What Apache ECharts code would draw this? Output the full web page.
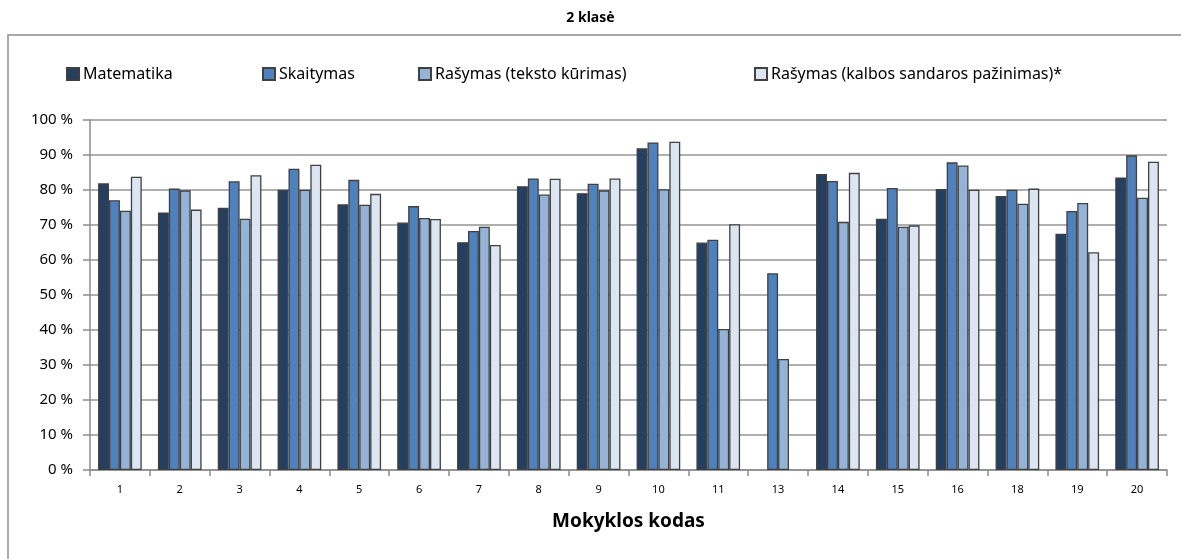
<!DOCTYPE html>
<html><head><meta charset="utf-8">
<script src="https://cdn.jsdelivr.net/npm/echarts@6/dist/echarts.min.js"></script>
<style>html,body{margin:0;padding:0;background:#fff}#c{width:1181px;height:559px}</style>
</head><body><div id="c"></div>
<script>
const categories = ['1','2','3','4','5','6','7','8','9','10','11','13','14','15','16','18','19','20'];
const seriesNames = ['Matematika','Skaitymas','Rašymas (teksto kūrimas)','Rašymas (kalbos sandaros pažinimas)*'];
const matematika = [81.9,73.6,74.9,80.1,75.9,70.7,65.1,81.1,79.1,91.9,65.0,null,84.6,71.8,80.3,78.3,67.5,83.6];
const skaitymas  = [77.1,80.4,82.5,86.1,82.9,75.4,68.3,83.3,81.8,93.6,65.8,56.2,82.6,80.6,87.9,80.1,74.0,89.9];
const rasymasTeksto = [74.1,79.9,71.8,80.1,75.8,72.0,69.5,78.7,79.9,80.2,40.3,31.7,70.9,69.5,87.0,76.1,76.3,77.8];
const rasymasKalbos = [83.8,74.4,84.2,87.2,78.9,71.7,64.3,83.2,83.3,93.8,70.2,null,84.9,69.9,80.1,80.4,62.2,88.1];
const yTicks = [0,10,20,30,40,50,60,70,80,90,100];

const colors = ['#243F60','#4F81BD','#95B3D7','#DCE6F2'];
const font = 'Noto Sans';
const allData = [matematika, skaitymas, rasymasTeksto, rasymasKalbos];
const legendLefts = [61, 257, 413, 749];

const chart = echarts.init(document.getElementById('c'), null, {renderer:'canvas'});
chart.setOption({
  animation:false,
  textStyle:{fontFamily:font},
  title:{text:'2 klasė', left:'center', top:6, textStyle:{fontFamily:font, fontSize:14, fontWeight:'bold', color:'#000'}},
  graphic:[{type:'rect', shape:{x:8,y:35,width:1200,height:600}, style:{fill:'none', stroke:'#8c8c8c', lineWidth:1.5}, silent:true, z:-1}],
  legend: seriesNames.map((n,i)=>({
    data:[n], left:legendLefts[i], top:61, itemWidth:12, itemHeight:12, itemGap:0,
    icon:'rect', textStyle:{fontFamily:font, fontSize:16, color:'#000', padding:[0,0,0,-1]}
  })),
  grid:{left:90, right:14, top:120, bottom:89, containLabel:false},
  xAxis:{
    type:'category', data:categories,
    name:'Mokyklos kodas', nameLocation:'middle', nameGap:42,
    nameTextStyle:{fontFamily:font, fontSize:19, fontWeight:'bold', color:'#000'},
    axisLine:{lineStyle:{color:'#8c8c8c', width:1.5}},
    axisTick:{show:true, length:6, lineStyle:{color:'#8c8c8c', width:1.5}, alignWithLabel:false},
    axisLabel:{fontSize:11, color:'#000', margin:14, fontFamily:font}
  },
  yAxis:{
    type:'value', min:yTicks[0], max:yTicks[yTicks.length-1], interval:yTicks[1]-yTicks[0],
    axisLine:{show:true, lineStyle:{color:'#8c8c8c', width:1.5}},
    axisTick:{show:true, length:7, lineStyle:{color:'#8c8c8c', width:1.5}},
    splitLine:{lineStyle:{color:'#959595', width:1.5}},
    axisLabel:{formatter:'{value} %', fontSize:15, color:'#000', margin:17, fontFamily:font}
  },
  series: seriesNames.map((n,i)=>({
    name:n, type:'bar', data:allData[i], barGap:'0%', barCategoryGap:'27%',
    itemStyle:{color:colors[i], borderColor:'#404040', borderWidth:1.3}
  }))
});
</script></body></html>
